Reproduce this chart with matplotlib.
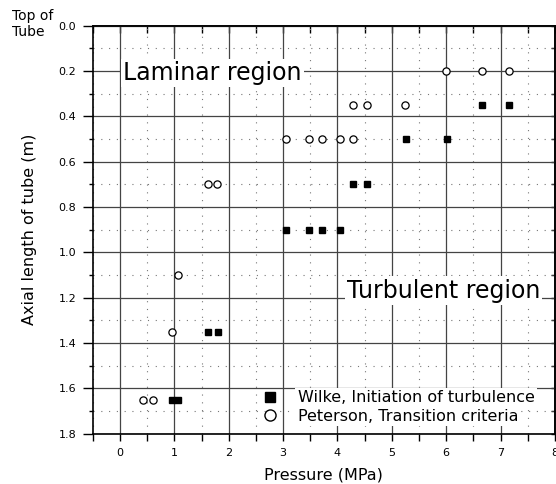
import matplotlib
matplotlib.use("Agg")
import matplotlib.pyplot as plt
from matplotlib.ticker import MultipleLocator, FixedLocator
from matplotlib.lines import Line2D

plt.rcParams['font.family'] = ['DejaVu Sans']

# Data
peterson_x = [6.0, 6.65, 7.16, 4.28, 4.55, 5.25, 3.05, 3.47, 3.71, 4.04, 4.28,
              1.61, 1.79, 1.06, 0.96, 0.43, 0.60]
peterson_y = [0.2, 0.2, 0.2, 0.35, 0.35, 0.35, 0.5, 0.5, 0.5, 0.5, 0.5,
              0.7, 0.7, 1.1, 1.35, 1.65, 1.65]
wilke_x = [6.66, 7.16, 5.26, 6.01, 4.29, 4.55, 3.05, 3.47, 3.71, 4.04,
           1.61, 1.80, 0.96, 1.06]
wilke_y = [0.35, 0.35, 0.5, 0.5, 0.7, 0.7, 0.9, 0.9, 0.9, 0.9,
           1.35, 1.35, 1.65, 1.65]
x_ticks = [0, 1, 2, 3, 4, 5, 6, 7, 8]
y_ticks = [0.0, 0.2, 0.4, 0.6, 0.8, 1.0, 1.2, 1.4, 1.6, 1.8]
wilke_label = "Wilke, Initiation of turbulence"
peterson_label = "Peterson, Transition criteria"

W, H = 556, 484
fig = plt.figure(figsize=(W / 100, H / 100), dpi=100)
left, right, top, bottom = 92.8, 555.0, 25.7, 433.5
ax = fig.add_axes([left / W, 1 - bottom / H, (right - left) / W, (bottom - top) / H])

ax.set_xlim(-0.5, 8)
ax.set_ylim(1.8, 0)

# grid
ax.xaxis.set_major_locator(FixedLocator(x_ticks))
ax.xaxis.set_minor_locator(MultipleLocator(0.5))
ax.yaxis.set_major_locator(FixedLocator(y_ticks))
ax.yaxis.set_minor_locator(MultipleLocator(0.1))
ax.grid(which='major', color='#444444', lw=0.9, ls='-', zorder=0)
ax.grid(which='minor', color='#777777', lw=0.8, ls=(0, (1, 6)), zorder=0)
ax.set_axisbelow(True)

ax.set_xticklabels([str(v) for v in x_ticks])
ax.set_yticklabels([f"{v:.1f}" for v in y_ticks])
ax.tick_params(axis='x', which='both', direction='out', length=5, width=1,
               labelsize=8, pad=5.8, top=False)
ax.tick_params(axis='y', which='major', direction='out', length=7, width=1,
               labelsize=8, pad=5, right=False)
ax.tick_params(axis='y', which='minor', direction='out', length=3, width=1, right=False)
for s in ax.spines.values():
    s.set_linewidth(1.2)

secx = ax.secondary_xaxis('top')
secx.xaxis.set_major_locator(MultipleLocator(0.5))
secx.tick_params(direction='in', length=5, width=1, labeltop=False)
secy = ax.secondary_yaxis('right')
secy.yaxis.set_major_locator(MultipleLocator(0.1))
secy.tick_params(direction='in', length=3, width=1, labelright=False)
for sec in (secx, secy):
    for s in sec.spines.values():
        s.set_linewidth(1.2)

# data
ax.plot(wilke_x, wilke_y, ls='none', marker='s', ms=5, mfc='black', mec='black',
        zorder=4, clip_on=False)
ax.plot(peterson_x, peterson_y, ls='none', marker='o', ms=5.2, mfc='white',
        mec='black', mew=0.9, zorder=4, clip_on=False)

# region labels
ax.annotate("Laminar region", xy=(0.055, 0.2), xytext=(0, -1.7),
            textcoords='offset points', ha='left', va='center', fontsize=17,
            bbox=dict(facecolor='white', edgecolor='none', pad=1.5), zorder=3)
ax.text(4.17, 1.2, "Turbulent region", ha='left', va='baseline', fontsize=17,
        bbox=dict(facecolor='white', edgecolor='none', pad=1.5), zorder=3)

# legend
handles = [Line2D([], [], ls='none', marker='s', ms=7, mfc='black', mec='black'),
           Line2D([], [], ls='none', marker='o', ms=8, mfc='white', mec='black', mew=1)]
leg = ax.legend(handles, [wilke_label, peterson_label], loc='center left',
                bbox_to_anchor=(0.366, 0.065), frameon=False, fontsize=11.5,
                handlelength=1.0, handletextpad=1.25, labelspacing=0.2,
                borderpad=0, borderaxespad=0)
for t in leg.get_texts():
    t.set_bbox(dict(facecolor='white', edgecolor='none', pad=2))
leg.set_zorder(5)

# axis labels
fig.text((left + right) / 2 / W, 1 - 475 / H, "Pressure (MPa)", ha='center',
         va='center', fontsize=11.5)
fig.text(30 / W, 1 - 229 / H, "Axial length of tube (m)", ha='center', va='center',
         rotation=90, fontsize=11.5)
fig.text(12 / W, 1 - 9 / H, "Top of\nTube", ha='left', va='top', fontsize=10,
         linespacing=1.2)

fig.savefig("out.png", dpi=100)
